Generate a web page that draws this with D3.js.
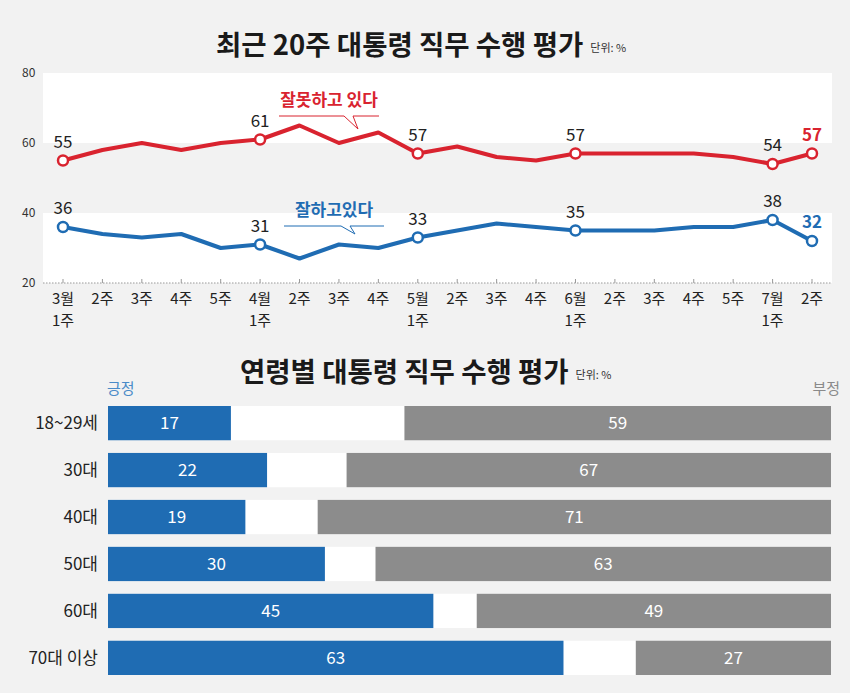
<!DOCTYPE html>
<html>
<head>
<meta charset="utf-8">
<script src="https://cdn.jsdelivr.net/npm/d3@7"></script>
<style>
  body { margin: 0; background: #f2f2f2; }
  text { font-family: "Noto Sans CJK KR", "Noto Sans", sans-serif; }
</style>
</head>
<body>
<div id="chart"></div>
<script>
const width = 850;
const height = 693;

// weekly data, 3월 1주 ~ 7월 2주
const weekTop = ["3월", "2주", "3주", "4주", "5주", "4월", "2주", "3주", "4주", "5월", "2주", "3주", "4주", "6월", "2주", "3주", "4주", "5주", "7월", "2주"];
const weekBottom = ["1주", "", "", "", "", "1주", "", "", "", "1주", "", "", "", "1주", "", "", "", "", "1주", ""];
const negative = [55, 58, 60, 58, 60, 61, 65, 60, 63, 57, 59, 56, 55, 57, 57, 57, 57, 56, 54, 57];
const positive = [36, 34, 33, 34, 30, 31, 27, 31, 30, 33, 35, 37, 36, 35, 35, 35, 36, 36, 38, 32];
const labelled = [0, 5, 9, 13, 18, 19];
const yTicks = [20, 40, 60, 80];

// by age
const ages = ["18~29세", "30대", "40대", "50대", "60대", "70대 이상"];
const agePositive = [17, 22, 19, 30, 45, 63];
const ageNegative = [59, 67, 71, 63, 49, 27];

const red = "#d9232f";
const blue = "#1f6cb3";

const svg = d3.select("#chart")
    .append("svg")
    .attr("width", width)
    .attr("height", height);

svg.append("rect").attr("width", width).attr("height", height).attr("fill", "#f2f2f2");

// title with a small unit note right after it
function title(label, x0, y0) {
    const t = svg.append("text")
        .attr("x", x0).attr("y", y0)
        .attr("font-size", 27.5).attr("font-weight", 700).attr("fill", "#1a1a1a")
        .text(label);
    const w = t.node().getComputedTextLength();
    svg.append("text")
        .attr("x", x0 + w + 7).attr("y", y0 - 3)
        .attr("font-size", 11).attr("fill", "#333")
        .text("단위: %");
}

// ---- top chart: weekly line chart
title("최근 20주 대통령 직무 수행 평가", 216, 55);

const x = d3.scalePoint()
    .domain(d3.range(weekTop.length))
    .range([63, 812]);

const y = d3.scaleLinear()
    .domain([20, 80])
    .range([283, 73]);

const plotLeft = 43, plotRight = 832;

// white bands 60-80 and 20-40
[[60, 80], [20, 40]].forEach(([a, b]) => {
    svg.append("rect")
        .attr("x", plotLeft).attr("y", y(b))
        .attr("width", plotRight - plotLeft).attr("height", y(a) - y(b))
        .attr("fill", "#fff");
});

svg.selectAll(".ytick")
    .data(yTicks)
    .enter()
    .append("text")
    .attr("x", 22).attr("y", d => y(d) + 4)
    .attr("font-size", 12).attr("fill", "#333")
    .text(d => d);

// dotted baseline and ticks
svg.append("line")
    .attr("x1", plotLeft).attr("x2", plotRight)
    .attr("y1", y(20)).attr("y2", y(20))
    .attr("stroke", "#999").attr("stroke-width", 1.2)
    .attr("stroke-dasharray", "1.5,1.5");
svg.selectAll(".xtick")
    .data(d3.range(weekTop.length))
    .enter()
    .append("line")
    .attr("x1", d => x(d)).attr("x2", d => x(d))
    .attr("y1", y(20) - 4).attr("y2", y(20))
    .attr("stroke", "#999");

const xl = svg.selectAll(".xlabel")
    .data(d3.range(weekTop.length))
    .enter()
    .append("text")
    .attr("text-anchor", "middle")
    .attr("font-size", 15).attr("fill", "#222");
xl.append("tspan").attr("x", d => x(d)).attr("y", 304).text(d => weekTop[d]);
xl.append("tspan").attr("x", d => x(d)).attr("y", 326).text(d => weekBottom[d]);

const line = d3.line()
    .x((d, i) => x(i))
    .y(d => y(d));

[[negative, red], [positive, blue]].forEach(([values, color]) => {
    svg.append("path")
        .datum(values)
        .attr("d", line)
        .attr("fill", "none")
        .attr("stroke", color)
        .attr("stroke-width", 4)
        .attr("stroke-linejoin", "round");

    svg.selectAll(null)
        .data(labelled)
        .enter()
        .append("circle")
        .attr("cx", d => x(d)).attr("cy", d => y(values[d]))
        .attr("r", 5)
        .attr("fill", "#fff")
        .attr("stroke", color)
        .attr("stroke-width", 2.5);

    svg.selectAll(null)
        .data(labelled)
        .enter()
        .append("text")
        .attr("x", d => x(d)).attr("y", d => y(values[d]) - 13)
        .attr("text-anchor", "middle")
        .attr("font-size", 17)
        .attr("font-weight", d => d === labelled[labelled.length - 1] ? 700 : 400)
        .attr("fill", d => d === labelled[labelled.length - 1] ? color : "#222")
        .text(d => values[d]);
});

// series callouts
function callout(label, color, cx, cy, tailX, tailY) {
    svg.append("text")
        .attr("x", cx).attr("y", cy)
        .attr("text-anchor", "middle")
        .attr("font-size", 17).attr("font-weight", 700)
        .attr("fill", color)
        .text(label);
    svg.append("path")
        .attr("d", `M${cx - 50},${cy + 10}H${tailX - 14}L${tailX},${tailY}L${tailX - 5},${cy + 10}H${cx + 50}`)
        .attr("fill", "none")
        .attr("stroke", color)
        .attr("stroke-width", 1);
}
callout("잘못하고 있다", red, 329, 106, 358, 129);
callout("잘하고있다", blue, 334, 216, 355, 234);

// ---- bottom chart: by age
title("연령별 대통령 직무 수행 평가", 240, 382);

svg.append("text")
    .attr("x", 107).attr("y", 394)
    .attr("font-size", 15).attr("fill", "#4a8bc8")
    .text("긍정");
svg.append("text")
    .attr("x", 840).attr("y", 394)
    .attr("text-anchor", "end")
    .attr("font-size", 15).attr("fill", "#8a8a8a")
    .text("부정");

const bx = d3.scaleLinear().domain([0, 100]).range([108, 831]);
const by = d3.scaleBand().domain(ages).range([406, 675]).paddingInner(0.27);

const rows = svg.selectAll(".row")
    .data(ages)
    .enter()
    .append("g")
    .attr("transform", d => `translate(0,${by(d)})`);

rows.append("rect")
    .attr("x", bx(0)).attr("width", bx(100) - bx(0))
    .attr("height", by.bandwidth()).attr("fill", "#fff");

rows.append("rect")
    .attr("x", bx(0))
    .attr("width", (d, i) => bx(agePositive[i]) - bx(0))
    .attr("height", by.bandwidth()).attr("fill", blue);

rows.append("rect")
    .attr("x", (d, i) => bx(100 - ageNegative[i]))
    .attr("width", (d, i) => bx(100) - bx(100 - ageNegative[i]))
    .attr("height", by.bandwidth()).attr("fill", "#8c8c8c");

rows.append("text")
    .attr("x", 98).attr("y", by.bandwidth() / 2 + 6)
    .attr("text-anchor", "end")
    .attr("font-size", 17).attr("fill", "#222")
    .text(d => d);

rows.append("text")
    .attr("x", (d, i) => bx(agePositive[i] / 2))
    .attr("y", by.bandwidth() / 2 + 6)
    .attr("text-anchor", "middle")
    .attr("font-size", 17).attr("fill", "#fff")
    .text((d, i) => agePositive[i]);

rows.append("text")
    .attr("x", (d, i) => bx(100 - ageNegative[i] / 2))
    .attr("y", by.bandwidth() / 2 + 6)
    .attr("text-anchor", "middle")
    .attr("font-size", 17).attr("fill", "#fff")
    .text((d, i) => ageNegative[i]);
</script>
</body>
</html>
